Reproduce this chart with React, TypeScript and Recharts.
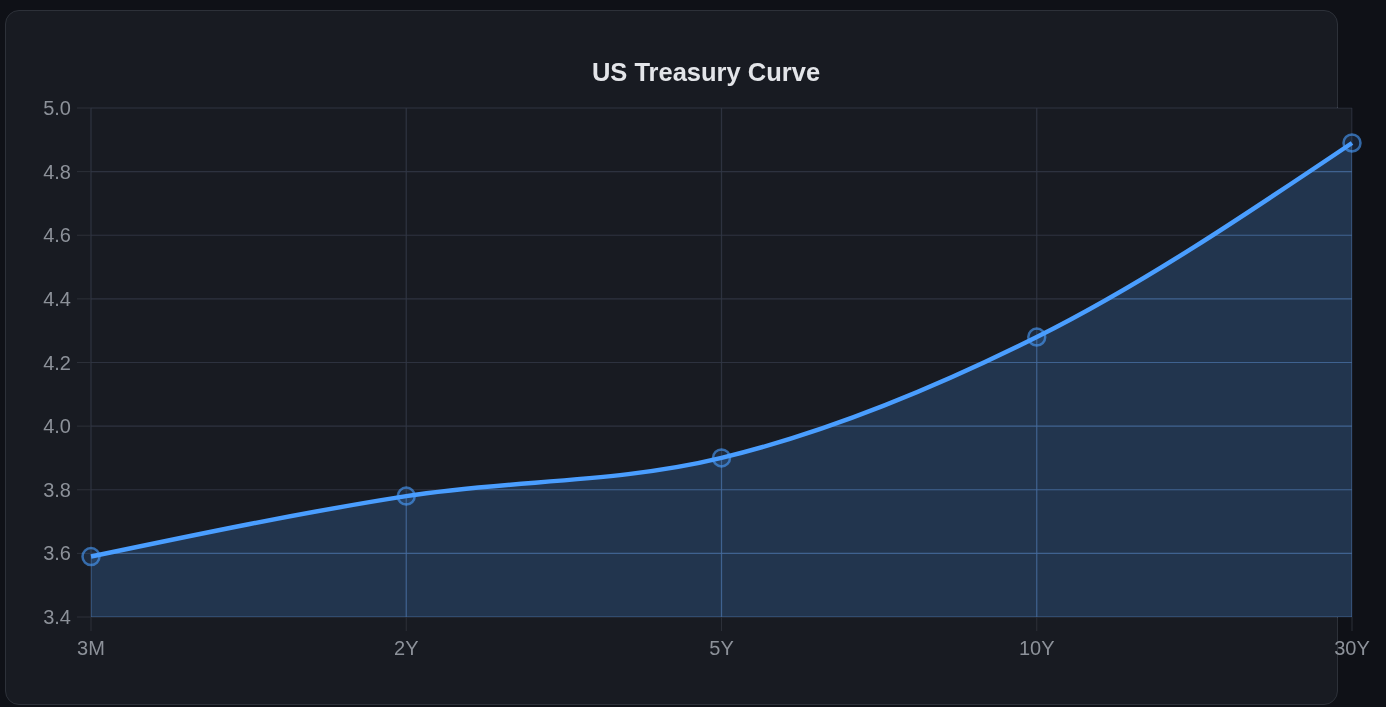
import {
  ComposedChart,
  Area,
  Line,
  XAxis,
  YAxis,
  CartesianGrid,
  ReferenceArea,
} from "recharts";

const tenors = ["3M", "2Y", "5Y", "10Y", "30Y"];
const yields = [3.59, 3.78, 3.9, 4.28, 4.89];
const yTicks = [3.4, 3.6, 3.8, 4.0, 4.2, 4.4, 4.6, 4.8, 5.0];

const FONT = '"Liberation Sans", Arial, Helvetica, sans-serif';
const BLUE = "#4a9eff";
const CARD_BG = "#181b22";
const TICK_LINE = "#2c3039";
const TICK_TEXT = "#8c9199";

export default function App() {
  const data = tenors.map((t, i) => ({ tenor: t, yield: yields[i] }));

  return (
    <div
      style={{
        position: "relative",
        width: 1386,
        height: 707,
        background: "#0f1117",
        overflow: "hidden",
        fontFamily: FONT,
      }}
    >
      <style>{`
        body { margin: 0; background: #0f1117; }
        .recharts-cartesian-grid { mix-blend-mode: overlay; }
      `}</style>

      {/* card */}
      <div
        style={{
          position: "absolute",
          left: 5,
          top: 10,
          width: 1331,
          height: 693,
          border: "1px solid #2d3139",
          borderRadius: 14,
          background: CARD_BG,
        }}
      />

      <div
        style={{
          position: "absolute",
          left: 706,
          top: 59,
          transform: "translateX(-50%)",
          whiteSpace: "nowrap",
          fontSize: 25.5,
          lineHeight: "26px",
          fontWeight: 700,
          color: "#e3e5e9",
        }}
      >
        US Treasury Curve
      </div>

      <div style={{ position: "absolute", left: 0, top: 0 }}>
        <ComposedChart
          width={1386}
          height={707}
          data={data}
          margin={{ top: 108, right: 34, bottom: 0, left: 0 }}
          style={{ fontFamily: FONT }}
        >
          <ReferenceArea
            x1="3M"
            x2="30Y"
            y1={3.4}
            y2={5.0}
            fill={CARD_BG}
            fillOpacity={1}
            stroke="none"
            zIndex={-200}
          />
          <XAxis
            dataKey="tenor"
            scale="point"
            padding={{ left: 0, right: 0 }}
            height={90}
            interval={0}
            axisLine={false}
            tickSize={14}
            tickMargin={10}
            tickLine={{ stroke: TICK_LINE }}
            tick={{ fill: TICK_TEXT, fontSize: 20 }}
          />
          <YAxis
            width={91}
            domain={[3.4, 5.0]}
            ticks={yTicks}
            interval={0}
            tickFormatter={(v: number) => v.toFixed(1)}
            axisLine={false}
            tickSize={14}
            tickMargin={6}
            tickLine={{ stroke: TICK_LINE }}
            tick={{ fill: TICK_TEXT, fontSize: 20 }}
          />
          <Area
            type="monotone"
            dataKey="yield"
            stroke="none"
            fill={BLUE}
            fillOpacity={0.2}
            dot={false}
            activeDot={false}
            isAnimationActive={false}
          />
          <CartesianGrid
            stroke="#ffffff"
            strokeOpacity={0.85}
            strokeWidth={1.2}
            vertical
            horizontal
            zIndex={200}
          />
          <Line
            type="monotone"
            dataKey="yield"
            stroke={BLUE}
            strokeWidth={4.5}
            dot={{
              r: 8.5,
              stroke: BLUE,
              strokeOpacity: 0.6,
              strokeWidth: 2.5,
              fill: BLUE,
              fillOpacity: 0.12,
            }}
            activeDot={false}
            isAnimationActive={false}
          />
        </ComposedChart>
      </div>
    </div>
  );
}
